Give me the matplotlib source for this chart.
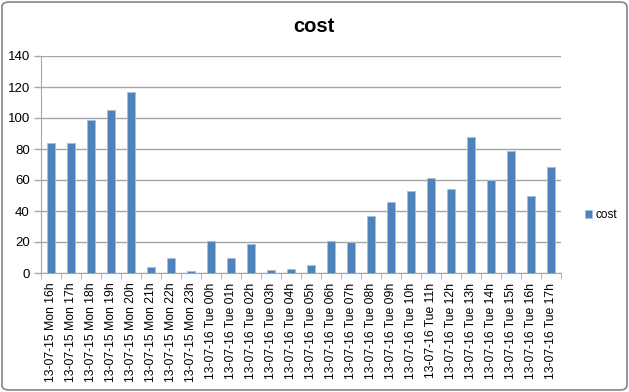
import matplotlib
matplotlib.use("Agg")
import matplotlib.pyplot as plt
from matplotlib.patches import FancyBboxPatch
import numpy as np

categories = ["13-07-15 Mon 16h", "13-07-15 Mon 17h", "13-07-15 Mon 18h", "13-07-15 Mon 19h",
              "13-07-15 Mon 20h", "13-07-15 Mon 21h", "13-07-15 Mon 22h", "13-07-15 Mon 23h",
              "13-07-16 Tue 00h", "13-07-16 Tue 01h", "13-07-16 Tue 02h", "13-07-16 Tue 03h",
              "13-07-16 Tue 04h", "13-07-16 Tue 05h", "13-07-16 Tue 06h", "13-07-16 Tue 07h",
              "13-07-16 Tue 08h", "13-07-16 Tue 09h", "13-07-16 Tue 10h", "13-07-16 Tue 11h",
              "13-07-16 Tue 12h", "13-07-16 Tue 13h", "13-07-16 Tue 14h", "13-07-16 Tue 15h",
              "13-07-16 Tue 16h", "13-07-16 Tue 17h"]
cost = [84, 84, 99, 105, 117, 4, 9.5, 1, 20.5, 9.5, 19, 2.2, 2.8, 5,
        20.5, 19.7, 37, 46, 53, 61, 54, 87.5, 60, 78.5, 50, 68.5]
yticks = [0, 20, 40, 60, 80, 100, 120, 140]

plt.rcParams['font.family'] = ['Liberation Sans', 'DejaVu Sans']

W, H = 629, 392
fig = plt.figure(figsize=(W / 100, H / 100), dpi=100)
ax = fig.add_axes([41 / W, 1 - 273 / H, (561 - 41) / W, (273 - 56) / H])

x = np.arange(len(categories))
bars = ax.bar(x, cost, width=0.4, color="#4F81BD", edgecolor="#A7C0DE", linewidth=0.6, label="cost", zorder=3)

ax.set_xlim(-0.5, len(categories) - 0.5)
ax.set_ylim(0, 140)
ax.set_yticks(yticks)
ax.set_yticklabels([str(v) for v in yticks], fontsize=9.5)
ax.yaxis.grid(True, color="#A6A6A6", linewidth=1, zorder=0)
ax.tick_params(axis='y', length=5, width=1, color="#A6A6A6", direction='out', pad=3)

ax.set_xticks(x)
ax.set_xticklabels(categories, rotation=90, fontsize=8.8)
ax.set_xticks(np.arange(-0.5, len(categories)), minor=True)
ax.tick_params(axis='x', which='major', length=0, pad=7)
ax.tick_params(axis='x', which='minor', length=4, color="#A6A6A6", direction='out')

for s in ['top', 'right']:
    ax.spines[s].set_visible(False)
ax.spines['left'].set_color("#A6A6A6")
ax.spines['bottom'].set_color("#A6A6A6")

fig.text(314 / W, 1 - 26 / H, "cost", ha='center', va='center', fontsize=14.5, fontweight='bold')

leg = fig.legend(handles=[bars], labels=["cost"], loc='center left',
                 bbox_to_anchor=(585 / W, 1 - 215 / H), frameon=False,
                 fontsize=8.5, handlelength=0.6, handleheight=0.6, handletextpad=0.3,
                 borderpad=0, borderaxespad=0)

border = FancyBboxPatch((2 / W, 2 / H), (W - 4) / W, (H - 4) / H,
                        boxstyle="round,pad=0,rounding_size=0.012",
                        transform=fig.transFigure, fill=False, edgecolor="#868686", linewidth=1.2)
fig.patches.append(border)

fig.savefig("out.png", dpi=100)
